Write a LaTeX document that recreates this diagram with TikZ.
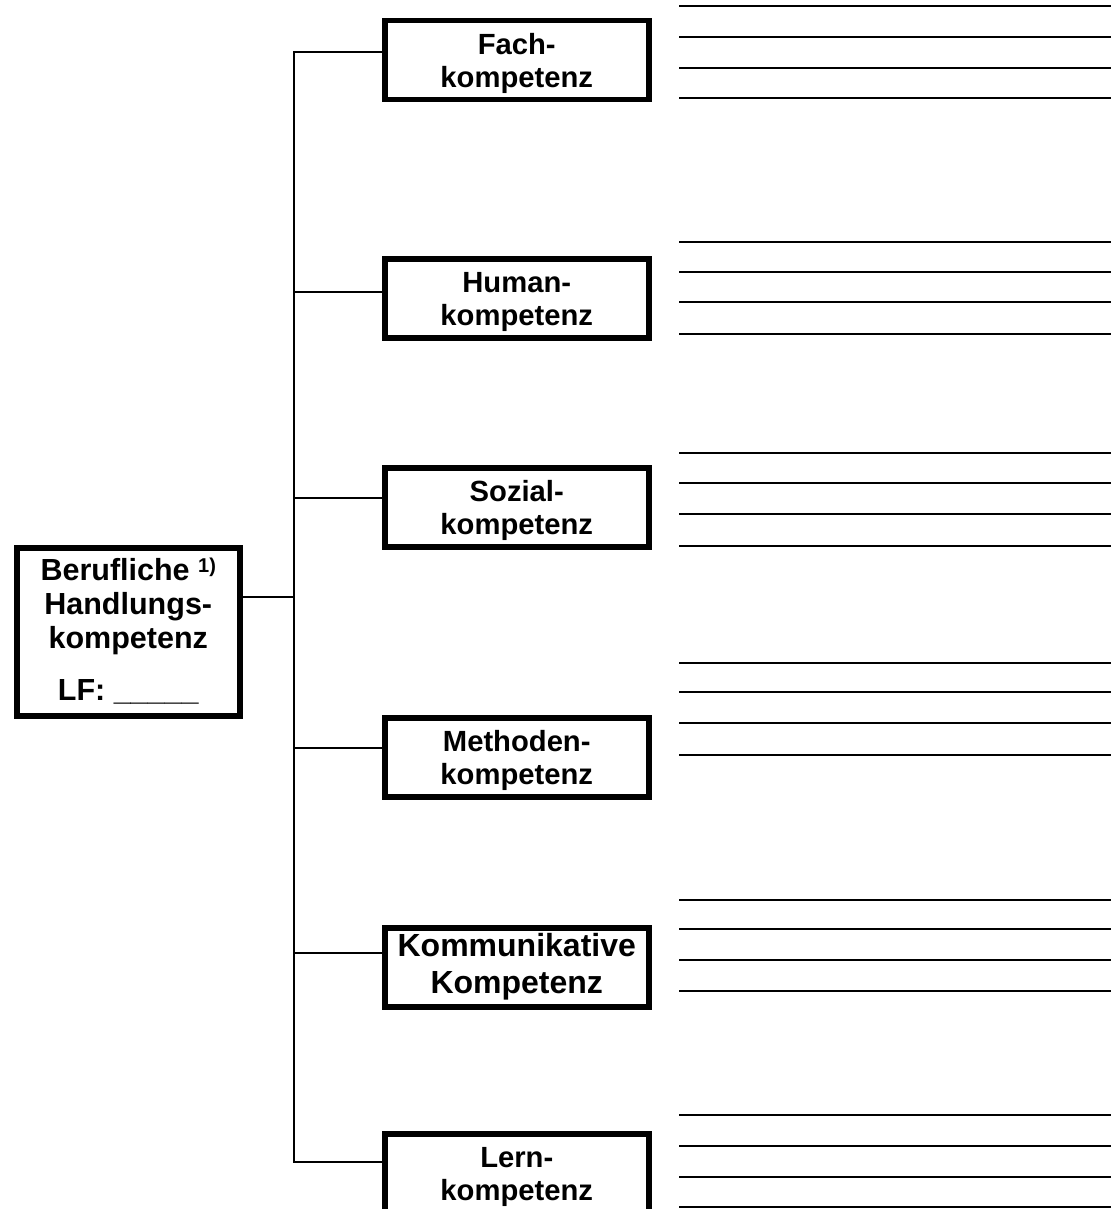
\documentclass[tikz,border=0pt]{standalone}
\usepackage{fontspec}
\newfontfamily\arialfam{Liberation Sans}
\usetikzlibrary{calc}

\newcommand{\boxfont}{\arialfam\bfseries\fontsize{29.2pt}{33pt}\selectfont}
\newcommand{\bigboxfont}{\arialfam\bfseries\fontsize{32pt}{37pt}\selectfont}
\newcommand{\rootfont}{\arialfam\bfseries\fontsize{30.5pt}{34pt}\selectfont}

% the text box of an aligned node rests on its last line, so the
% height runs from the box's top edge down to that last baseline
\tikzset{
  kbox/.style={draw, line width=5.5pt, rectangle, inner sep=0pt,
    minimum width=264pt, text height=67pt, text depth=12pt,
    align=center, font=\boxfont, anchor=north west},
  rootbox/.style={draw, line width=5.5pt, rectangle, inner sep=0pt,
    minimum width=223pt, text height=153pt, text depth=15pt,
    align=center, font=\rootfont, anchor=north west},
  conn/.style={line width=2.2pt, line cap=rect},
  rule/.style={line width=2.2pt, black}
}

\begin{document}
\begin{tikzpicture}[x=1pt, y=-1pt]
  \useasboundingbox (0,0) rectangle (1111,1209);
  \clip (0,0) rectangle (1111,1209);

  % root box
  \node[rootbox] (root) at (14,545)
    {Berufliche \raisebox{8pt}{\fontsize{20pt}{20pt}\selectfont 1)}\\
     Handlungs-\\ kompetenz\\[18pt] LF: \_\_\_\_\_};

  % competence boxes
  \node[kbox] (fach)  at (382,18)   {Fach-\\kompetenz};
  \node[kbox] (human) at (382,256)  {Human-\\kompetenz};
  \node[kbox] (sozial) at (382,465) {Sozial-\\kompetenz};
  \node[kbox] (meth)  at (382,715)  {Methoden-\\kompetenz};
  \node[kbox, font=\bigboxfont, text height=66pt, text depth=13pt] (komm)
    at (382,925) {Kommunikative\\Kompetenz};
  \node[kbox, text depth=20pt] (lern) at (382,1131) {Lern-\\kompetenz};

  % trunk of the tree
  \coordinate (t0) at (294,597);
  \coordinate (t1) at (294,52);
  \coordinate (t2) at (294,292);
  \coordinate (t3) at (294,498);
  \coordinate (t4) at (294,748);
  \coordinate (t5) at (294,953);
  \coordinate (t6) at (294,1162);

  \draw[conn] (t1) -- (t6);
  \draw[conn] (root.east |- t0) -- (t0);
  \draw[conn] (t1) -- (t1 -| fach.west);
  \draw[conn] (t2) -- (t2 -| human.west);
  \draw[conn] (t3) -- (t3 -| sozial.west);
  \draw[conn] (t4) -- (t4 -| meth.west);
  \draw[conn] (t5) -- (t5 -| komm.west);
  \draw[conn] (t6) -- (t6 -| lern.west);

  % writing lines beside each box
  \foreach \y in {6,37,68,98,
                  242,272,302,334,
                  453,483,514,546,
                  663,692,723,755,
                  900,929,960,991,
                  1115,1146,1177,1207}
    \draw[rule] (679,\y) -- (1111,\y);
\end{tikzpicture}
\end{document}
